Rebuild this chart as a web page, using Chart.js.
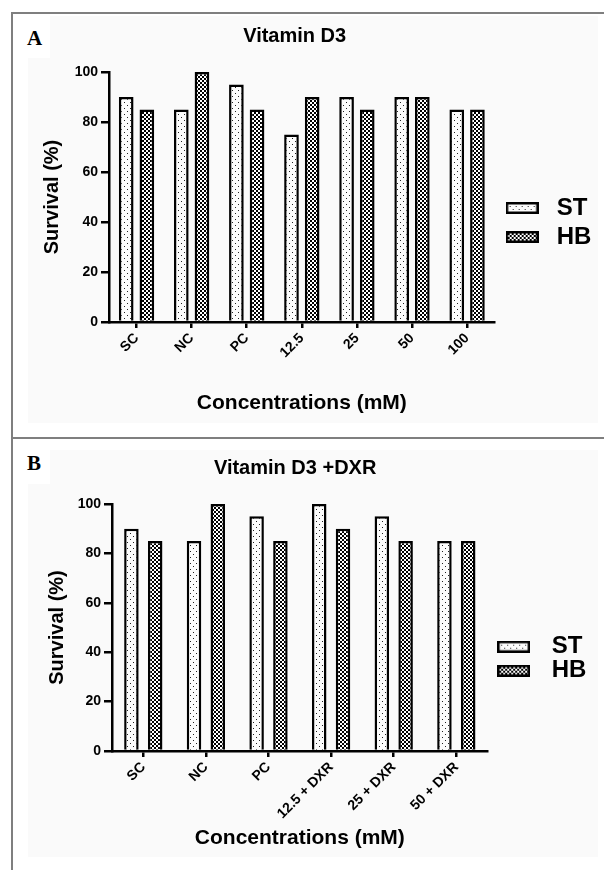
<!DOCTYPE html>
<html>
<head>
<meta charset="utf-8">
<title>Vitamin D3 survival</title>
<script src="https://cdn.jsdelivr.net/npm/chart.js@4.4.0/dist/chart.umd.min.js"></script>
<style>
  body { margin: 0; background: #fff; width: 604px; height: 870px; position: relative; overflow: hidden; }
  .shade { position: absolute; background: #fafafa; }
  .cover { position: absolute; background: #fff; }
  .rule { position: absolute; background: #7f7f7f; }
  .tag { position: absolute; font-family: "Liberation Serif", "Times New Roman", serif; font-weight: bold; font-size: 21px; line-height: 24px; color: #000; }
  canvas { position: absolute; }
</style>
</head>
<body>
<div class="shade" style="left:28px;top:16px;width:570px;height:407px"></div>
<div class="cover" style="left:12px;top:14px;width:38px;height:44px"></div>
<div class="shade" style="left:28px;top:450px;width:570px;height:407px"></div>
<div class="cover" style="left:12px;top:440px;width:38px;height:44px"></div>
<div class="rule" style="left:11px;top:12px;width:593px;height:2px"></div>
<div class="rule" style="left:11px;top:12px;width:2px;height:858px"></div>
<div class="rule" style="left:11px;top:437px;width:593px;height:2px"></div>
<div class="tag" style="left:27px;top:26px">A</div>
<div class="tag" style="left:27px;top:451px">B</div>
<canvas id="chartA" width="616" height="424" style="left:-12px;top:14px"></canvas>
<canvas id="chartB" width="610" height="431" style="left:-6px;top:439px"></canvas>
<script>
// data
const categoriesA = ['SC', 'NC', 'PC', '12.5', '25', '50', '100'];
const stA = [90, 85, 95, 75, 90, 90, 85];
const hbA = [85, 100, 85, 90, 85, 90, 85];

const categoriesB = ['SC', 'NC', 'PC', '12.5 + DXR', '25 + DXR', '50 + DXR'];
const stB = [90, 85, 95, 100, 95, 85];
const hbB = [85, 100, 85, 90, 85, 85];

const yTicks = [0, 20, 40, 60, 80, 100];

const FONT = '"Liberation Sans", Arial, sans-serif';

// fill patterns: dotted for ST, checkered for HB
function dotPattern() {
    const c = document.createElement('canvas');
    c.width = 6; c.height = 6;
    const g = c.getContext('2d');
    g.fillStyle = '#fcfcfc';
    g.fillRect(0, 0, 6, 6);
    g.fillStyle = '#222';
    g.fillRect(1, 1, 1, 1);
    g.fillRect(4, 4, 1, 1);
    return g.createPattern(c, 'repeat');
}

function checkPattern() {
    const c = document.createElement('canvas');
    c.width = 4; c.height = 4;
    const g = c.getContext('2d');
    g.fillStyle = '#fff';
    g.fillRect(0, 0, 4, 4);
    g.fillStyle = '#000';
    g.fillRect(0, 0, 2, 2);
    g.fillRect(2, 2, 2, 2);
    return g.createPattern(c, 'repeat');
}

const dots = dotPattern();
const checks = checkPattern();

function legendIcon(fill) {
    const c = document.createElement('canvas');
    c.width = 33; c.height = 12;
    const g = c.getContext('2d');
    g.fillStyle = fill;
    g.fillRect(0, 0, 33, 12);
    g.strokeStyle = '#000';
    g.lineWidth = 2.5;
    g.strokeRect(1.25, 1.25, 30.5, 9.5);
    return c;
}

const icons = [legendIcon(dotPattern()), legendIcon(checkPattern())];

function makeChart(id, labels, st, hb, s) {
    return new Chart(document.getElementById(id), {
        type: 'bar',
        data: {
            labels: labels,
            datasets: [
                { label: 'ST', data: st, backgroundColor: dots, borderColor: '#000', borderWidth: 2.5 },
                { label: 'HB', data: hb, backgroundColor: checks, borderColor: '#000', borderWidth: 2.5 }
            ]
        },
        options: {
            responsive: false,
            animation: false,
            categoryPercentage: s.catPct,
            barPercentage: s.barPct,
            layout: { padding: s.pad },
            plugins: {
                title: {
                    display: true,
                    text: s.title,
                    color: '#000',
                    font: { family: FONT, size: 20, weight: 'bold' },
                    padding: s.titlePad
                },
                legend: {
                    position: 'right',
                    labels: {
                        usePointStyle: true,
                        pointStyleWidth: s.iconSlot,
                        boxHeight: 12,
                        padding: s.legendGap,
                        color: '#000',
                        font: { family: FONT, size: 24, weight: 'bold' },
                        generateLabels: function(chart) {
                            const items = Chart.defaults.plugins.legend.labels.generateLabels(chart);
                            items.forEach((item, i) => { item.pointStyle = icons[i]; });
                            return items;
                        }
                    }
                },
                tooltip: { enabled: false }
            },
            scales: {
                x: {
                    grid: { offset: false, drawOnChartArea: false, color: '#000', lineWidth: 2.5, tickLength: 6 },
                    border: { color: '#000', width: 2.5 },
                    ticks: {
                        color: '#000',
                        font: { family: FONT, size: s.xTickSize, weight: 'bold' },
                        minRotation: 45,
                        maxRotation: 45,
                        autoSkip: false,
                        padding: 2
                    },
                    title: {
                        display: true,
                        text: 'Concentrations (mM)',
                        color: '#000',
                        font: { family: FONT, size: 21, weight: 'bold' },
                        padding: { top: 0, bottom: s.xTitlePad }
                    },
                    afterFit: function(scale) { scale.height = s.xHeight; }
                },
                y: {
                    min: 0,
                    max: 100,
                    afterBuildTicks: function(scale) { scale.ticks = yTicks.map(v => ({ value: v })); },
                    grid: { drawOnChartArea: false, color: '#000', lineWidth: 2.5, tickLength: 8 },
                    border: { color: '#000', width: 2.5 },
                    ticks: { color: '#000', font: { family: FONT, size: 14, weight: 'bold' }, padding: 3 },
                    title: {
                        display: true,
                        text: 'Survival (%)',
                        color: '#000',
                        font: { family: FONT, size: 20, weight: 'bold' },
                        padding: { top: s.yTitlePad, bottom: 0 }
                    },
                    afterFit: function(scale) { scale.width = s.yWidth; }
                }
            }
        }
    });
}

makeChart('chartA', categoriesA, stA, hbA, {
    title: 'Vitamin D3',
    catPct: 0.75, barPct: 0.71,
    pad: { top: 0, bottom: 7, left: 0, right: 2.7 },
    titlePad: { top: 10.7, bottom: 23.3 },
    legendGap: 5, iconSlot: 45,
    xHeight: 109, xTitlePad: 15.4, xTickSize: 14,
    yWidth: 121, yTitlePad: 52
});

makeChart('chartB', categoriesB, stB, hbB, {
    title: 'Vitamin D3 +DXR',
    catPct: 0.76, barPct: 0.61,
    pad: { top: 8.4, bottom: 0, left: 0, right: 7.7 },
    titlePad: { top: 8.6, bottom: 24 },
    legendGap: 0, iconSlot: 52,
    xHeight: 119, xTitlePad: 19.4, xTickSize: 14,
    yWidth: 118, yTitlePad: 51
});
</script>
</body>
</html>
